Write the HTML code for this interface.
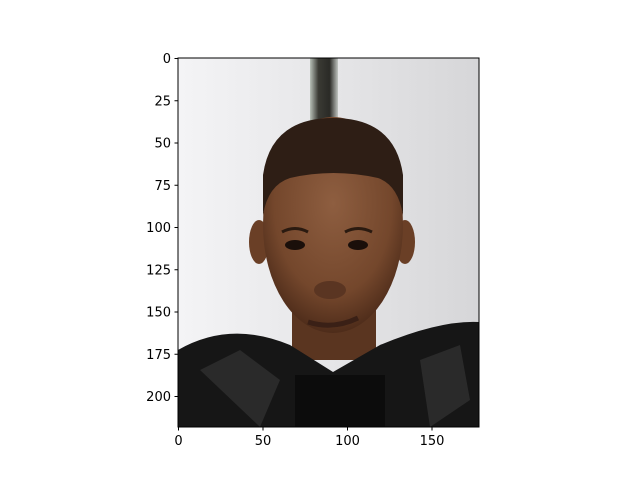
<!DOCTYPE html>
<html><head><meta charset="utf-8"><style>
body{margin:0;background:#fff;}
svg{display:block;font-family:"DejaVu Sans","Liberation Sans",sans-serif;}
</style></head><body>
<svg id="chart" width="640" height="480" viewBox="0 0 640 480">
<defs>
<linearGradient id="bg" x1="0" x2="1" y1="0" y2="0"><stop offset="0" stop-color="#f4f4f6"/><stop offset="0.5" stop-color="#e6e6e8"/><stop offset="1" stop-color="#d6d6d8"/></linearGradient>
<radialGradient id="skin" cx="0.5" cy="0.4" r="0.6"><stop offset="0" stop-color="#8e5e40"/><stop offset="0.7" stop-color="#74472c"/><stop offset="1" stop-color="#4e2c1a"/></radialGradient>
<linearGradient id="pole" x1="0" x2="1"><stop offset="0" stop-color="#b8c0b8"/><stop offset="0.3" stop-color="#3a3a34"/><stop offset="0.7" stop-color="#2a2a26"/><stop offset="1" stop-color="#c0c4c0"/></linearGradient>
<clipPath id="imgclip"><rect x="178" y="58" width="301" height="369"/></clipPath>
</defs>
<g clip-path="url(#imgclip)">
<rect x="178" y="58" width="301" height="369" fill="url(#bg)"/>
<rect x="310" y="58" width="28" height="80" fill="url(#pole)"/>
<ellipse cx="259" cy="242" rx="10" ry="22" fill="#6a3f26"/>
<ellipse cx="405" cy="242" rx="10" ry="22" fill="#6a3f26"/>
<rect x="292" y="290" width="84" height="70" fill="#5a3520"/>
<ellipse cx="333" cy="225" rx="70" ry="108" fill="url(#skin)"/>
<path d="M263 215 Q268 185 290 178 Q333 168 378 178 Q398 185 403 215 L403 175 Q395 118 333 118 Q271 118 263 175 Z" fill="#2e1e15"/>
<ellipse cx="295" cy="245" rx="10" ry="5" fill="#1a0f0a"/>
<ellipse cx="358" cy="245" rx="10" ry="5" fill="#1a0f0a"/>
<path d="M282 232 Q295 225 308 232" stroke="#2a1a10" stroke-width="3" fill="none"/>
<path d="M345 232 Q358 225 372 232" stroke="#2a1a10" stroke-width="3" fill="none"/>
<ellipse cx="330" cy="290" rx="16" ry="9" fill="#5a3522"/>
<path d="M308 322 Q333 330 358 318" stroke="#3a2016" stroke-width="5" fill="none"/>
<path d="M178 350 Q230 320 290 345 L333 372 L380 345 Q440 320 479 322 L479 427 L178 427 Z" fill="#161616"/>
<path d="M200 370 L240 350 L280 380 L260 427 Z" fill="#2a2a2a"/>
<path d="M420 360 L460 345 L470 400 L430 427 Z" fill="#2a2a2a"/>
<rect x="295" y="375" width="90" height="52" fill="#0c0c0c"/>
</g>
<rect x="178" y="58" width="301" height="369" fill="none" stroke="#000" stroke-width="1"/>
<g id="xt"></g>
<g id="yt"></g>
<script>
const xTicks=[0,50,100,150];
const yTicks=[0,25,50,75,100,125,150,175,200];
const x0=178.5,y0=58.5,s=1.69;
const NS='http://www.w3.org/2000/svg';
const xt=document.getElementById('xt'),yt=document.getElementById('yt');
xTicks.forEach(v=>{const x=x0+v*s;
const l=document.createElementNS(NS,'line');l.setAttribute('x1',x);l.setAttribute('x2',x);l.setAttribute('y1',427);l.setAttribute('y2',430.5);l.setAttribute('stroke','#000');


xt.appendChild(l);
const t=document.createElementNS(NS,'text');t.setAttribute('x',x);t.setAttribute('y',445);t.setAttribute('text-anchor','middle');t.setAttribute('font-size','13');t.textContent=v;


xt.appendChild(t);});
yTicks.forEach(v=>{const y=y0+v*s;
const l=document.createElementNS(NS,'line');l.setAttribute('x1',174.5);l.setAttribute('x2',178);l.setAttribute('y1',y);l.setAttribute('y2',y);l.setAttribute('stroke','#000');


yt.appendChild(l);
const t=document.createElementNS(NS,'text');t.setAttribute('x',171);t.setAttribute('y',y+4.5);t.setAttribute('text-anchor','end');t.setAttribute('font-size','13');t.textContent=v;


yt.appendChild(t);});
</script>
</svg>
</body></html>
